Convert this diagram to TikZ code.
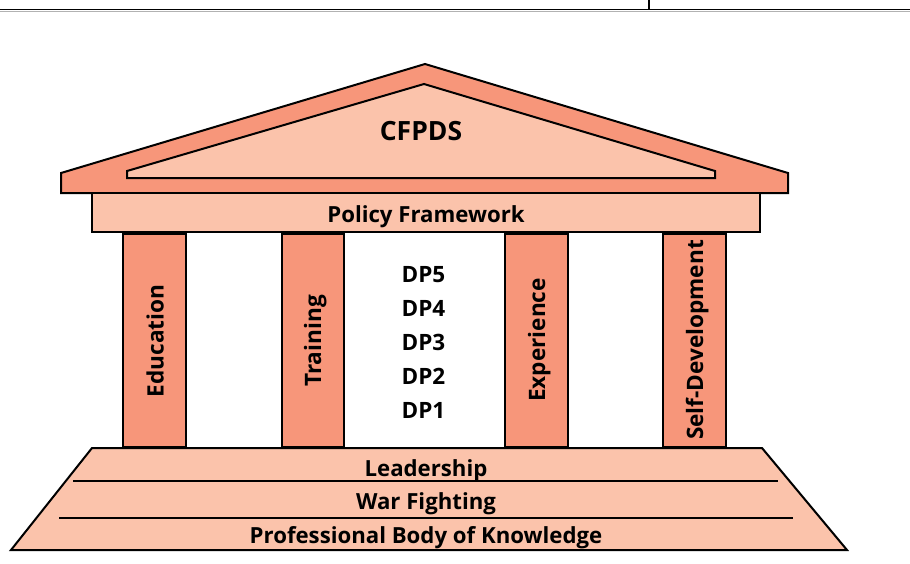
\documentclass[tikz,border=0pt]{standalone}
\usepackage{fontspec}
\setmainfont{Open Sans}
\definecolor{roofdark}{HTML}{F7967A}
\definecolor{rooflight}{HTML}{FBC3AB}
\begin{document}
\begin{tikzpicture}[x=1pt,y=-1pt,
  outline/.style={draw=black,line width=2pt,line join=miter},
  darkpart/.style={outline,fill=roofdark},
  lightpart/.style={outline,fill=rooflight},
  lbl/.style={font=\fontsize{22.2}{26}\selectfont\bfseries,inner sep=0pt,anchor=base},
  dplbl/.style={font=\fontsize{22.5}{26}\selectfont\bfseries,inner sep=0pt,anchor=base},
  vlbl/.style={lbl,font=\fontsize{22.6}{26}\selectfont\bfseries,rotate=90},
  rule/.style={draw=black,line width=1.8pt}]
\useasboundingbox (0,0) rectangle (910,563);
% top rule
\draw[line width=1.3pt] (0,9.5) -- (910,9.5);
\draw[line width=0.8pt,gray!60] (0,11) -- (910,11);
\draw[line width=1.3pt] (649,0) -- (649,9.5);
% roof
\draw[darkpart] (61,193) -- (61,173) -- (425,64) -- (788,173) -- (788,193) -- cycle;
\draw[lightpart] (127,178) -- (127,171) -- (424,84) -- (715,171) -- (715,178) -- cycle;
\node[lbl,font=\fontsize{26.5}{30}\selectfont\bfseries] (cfpds) at (421,140) {CFPDS};
% policy framework
\draw[lightpart] (92,193) rectangle (760,232);
\node[lbl] (policy) at (426,222) {Policy Framework};
% columns
\draw[darkpart] (123,234) rectangle (186,447);
\draw[darkpart] (282,234) rectangle (344,447);
\draw[darkpart] (505,234) rectangle (568,447);
\draw[darkpart] (663,234) rectangle (726,447);
\node[vlbl] (edu) at (163.5,341) {Education};
\node[vlbl] (train) at (321,341) {Training};
\node[vlbl] (exp) at (545,340) {Experience};
\node[vlbl] (self) at (703,340) {Self-Development};
% DP levels
\node[dplbl] (dp5) at (423.5,282) {DP5};
\node[dplbl] (dp4) at (423.5,316) {DP4};
\node[dplbl] (dp3) at (423.5,350) {DP3};
\node[dplbl] (dp2) at (423.5,384) {DP2};
\node[dplbl] (dp1) at (423.5,418) {DP1};
% base
\draw[lightpart] (92,448) -- (762,448) -- (847,550) -- (11,550) -- cycle;
\draw[rule] (73,481) -- (778,481);
\draw[rule] (59,518) -- (793,518);
\node[lbl] (lead) at (426,476) {Leadership};
\node[lbl] (war) at (426,509.5) {War Fighting};
\node[lbl] (pbk) at (426,543.3) {Professional Body of Knowledge};
\end{tikzpicture}
\end{document}
